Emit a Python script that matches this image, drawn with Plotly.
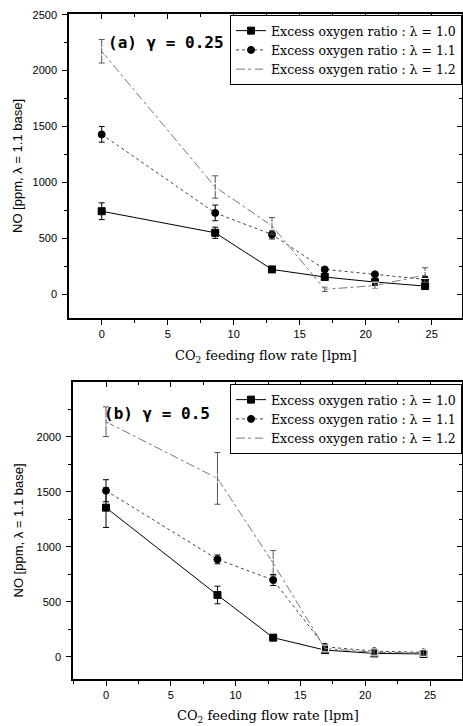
import plotly.graph_objects as go

W, H = 463, 726

# ---------------- data ----------------
x_rate = [0, 8.6, 12.9, 16.9, 20.7, 24.5]
series_names = ["Excess oxygen ratio : λ = 1.0",
                "Excess oxygen ratio : λ = 1.1",
                "Excess oxygen ratio : λ = 1.2"]

# panel (a) gamma = 0.25
a_no_10 = [741, 548, 220, 152, 107, 71]
a_err_10 = [75, 50, 12, 12, 12, 12]
a_no_11 = [1429, 726, 533, 220, 176, 131]
a_err_11 = [70, 70, 40, 15, 15, 15]
a_no_12 = [2173, 958, 610, 42, 75, 170]
a_err_12 = [105, 100, 75, 20, 25, 65]

# panel (b) gamma = 0.5
b_no_10 = [1355, 561, 173, 60, 30, 25]
b_err_10 = [180, 80, 12, 20, 15, 15]
b_no_11 = [1509, 885, 697, 90, 50, 40]
b_err_11 = [100, 40, 50, 20, 15, 15]
b_no_12 = [2136, 1621, 850, 75, 40, 35]
b_err_12 = [135, 235, 115, 25, 20, 20]

panel_labels = ["(a) γ = 0.25", "(b) γ = 0.5"]
y_title = "NO [ppm, λ = 1.1 base]"
x_title = "CO<sub>2</sub> feeding flow rate [lpm]"
y_ticks = [0, 500, 1000, 1500, 2000, 2500]
x_ticks = [0, 5, 10, 15, 20, 25]

# ---------------- styles ----------------
styles = [
    dict(symbol="square", color="black", fill="black", dash="solid", lcolor="black"),
    dict(symbol="circle", color="black", fill="black", dash="dot", lcolor="#444444"),
    dict(symbol="square-open", color="#555555", fill="white", dash="dashdot", lcolor="#777777"),
]

fig = go.Figure()

def px_dom_x(l, r):
    return [l / W, r / W]

def px_dom_y(t, b):
    return [1 - b / H, 1 - t / H]

# panel pixel geometry
P = [
    dict(l=69, r=462, t=14, b=318, x0px=101.7, xs=13.2, y0px=294, ys=0.1117),
    dict(l=73, r=462, t=382, b=679, x0px=106.0, xs=12.96, y0px=656.7, ys=0.110),
]

data_sets = [
    [(a_no_10, a_err_10), (a_no_11, a_err_11), (a_no_12, a_err_12)],
    [(b_no_10, b_err_10), (b_no_11, b_err_11), (b_no_12, b_err_12)],
]

tickfont = dict(family="Liberation Sans, Arial, sans-serif", size=11, color="black")

for pi, (p, ds) in enumerate(zip(P, data_sets)):
    xa = "x" if pi == 0 else "x2"
    ya = "y" if pi == 0 else "y2"
    leg = "legend" if pi == 0 else "legend2"
    for si, (vals, errs) in enumerate(ds):
        st = styles[si]
        fig.add_trace(go.Scatter(
            x=x_rate, y=vals, mode="lines+markers", name=series_names[si],
            xaxis=xa, yaxis=ya, legend=leg,
            line=dict(color=st["lcolor"], width=1, dash=st["dash"]),
            marker=dict(symbol=st["symbol"], size=7, color=st["fill"],
                        line=dict(color=st["color"], width=1)),
            error_y=dict(type="data", array=errs, visible=True,
                         thickness=1, width=3, color=st["color"]),
        ))

# dummy traces to activate mirror axes
for xa, ya in [("x3", "y"), ("x", "y3"), ("x4", "y2"), ("x2", "y4")]:
    fig.add_trace(go.Scatter(x=[None], y=[None], xaxis=xa, yaxis=ya,
                             showlegend=False, hoverinfo="skip"))

layout = dict(
    width=W, height=H,
    margin=dict(l=0, r=0, t=0, b=0, autoexpand=False),
    paper_bgcolor="white", plot_bgcolor="white",
    showlegend=True,
)

for pi, p in enumerate(P):
    xr = [(p["l"] - p["x0px"]) / p["xs"], (p["r"] - p["x0px"]) / p["xs"]]
    yr = [-(p["b"] - p["y0px"]) / p["ys"], (p["y0px"] - p["t"]) / p["ys"]]
    xd = px_dom_x(p["l"], p["r"])
    yd = px_dom_y(p["t"], p["b"])
    xn = "xaxis" if pi == 0 else "xaxis2"
    yn = "yaxis" if pi == 0 else "yaxis2"
    xon = "xaxis3" if pi == 0 else "xaxis4"
    yon = "yaxis3" if pi == 0 else "yaxis4"
    xid = "x" if pi == 0 else "x2"
    yid = "y" if pi == 0 else "y2"
    common = dict(showgrid=False, zeroline=False, linecolor="black", linewidth=1.5,
                  tickcolor="black", tickwidth=1, ticklen=5, showline=True)
    layout[xn] = dict(domain=xd, range=xr, anchor=yid, side="bottom",
                      tickmode="array", tickvals=x_ticks, ticks="outside",
                      minor=dict(ticks="outside", ticklen=3, dtick=2.5, tick0=0,
                                 tickcolor="black"),
                      tickfont=tickfont, **common)
    layout[yn] = dict(domain=yd, range=yr, anchor=xid, side="left",
                      tickmode="array", tickvals=y_ticks, ticks="outside",
                      minor=dict(ticks="outside", ticklen=3, dtick=250, tick0=0,
                                 tickcolor="black"),
                      tickfont=tickfont, ticklabelstandoff=3, **common)
    layout[xon] = dict(overlaying=xid, range=xr, anchor=yid, side="top",
                       tickmode="array", tickvals=x_ticks, ticks="inside",
                       minor=dict(ticks="inside", ticklen=3, dtick=2.5, tick0=0,
                                  tickcolor="black"),
                       showticklabels=False, **common)
    layout[yon] = dict(overlaying=yid, range=yr, anchor=xid, side="right",
                       tickmode="array", tickvals=y_ticks, ticks="inside",
                       minor=dict(ticks="inside", ticklen=3, dtick=250, tick0=0,
                                  tickcolor="black"),
                       showticklabels=False, **common)

legfont = dict(family="DejaVu Serif, serif", size=12.5, color="black")
layout["legend"] = dict(x=462 / W, y=1 - 15 / H, xanchor="right", yanchor="top",
                        bgcolor="white", bordercolor="black", borderwidth=1,
                        font=legfont, tracegroupgap=0)
layout["legend2"] = dict(x=462 / W, y=1 - 384 / H, xanchor="right", yanchor="top",
                         bgcolor="white", bordercolor="black", borderwidth=1,
                         font=legfont, tracegroupgap=0)

annotations = []
lab_pos = [(106, 43), (102, 413)]
for lab, (lx, ly) in zip(panel_labels, lab_pos):
    annotations.append(dict(text="<b>" + lab + "</b>", x=lx / W, y=1 - ly / H,
                            xref="paper", yref="paper", xanchor="left", yanchor="middle",
                            showarrow=False,
                            font=dict(family="DejaVu Sans Mono, monospace", size=16, color="black")))
for p in P:
    annotations.append(dict(text=y_title, x=18 / W, y=1 - ((p["t"] + p["b"]) / 2) / H,
                            xref="paper", yref="paper", xanchor="center", yanchor="middle",
                            textangle=-90, showarrow=False,
                            font=dict(family="Liberation Sans, Arial, sans-serif", size=13, color="black")))
xt_y = [356, 716]
for p, yy in zip(P, xt_y):
    annotations.append(dict(text=x_title, x=((p["l"] + p["r"]) / 2) / W, y=1 - yy / H,
                            xref="paper", yref="paper", xanchor="center", yanchor="middle",
                            showarrow=False,
                            font=dict(family="DejaVu Serif, serif", size=13, color="black")))
layout["annotations"] = annotations

fig.update_layout(**layout)
fig.write_html("out.html", config={"displayModeBar": False},
               post_script="document.body.style.margin='0px';document.body.style.overflow='hidden';")
